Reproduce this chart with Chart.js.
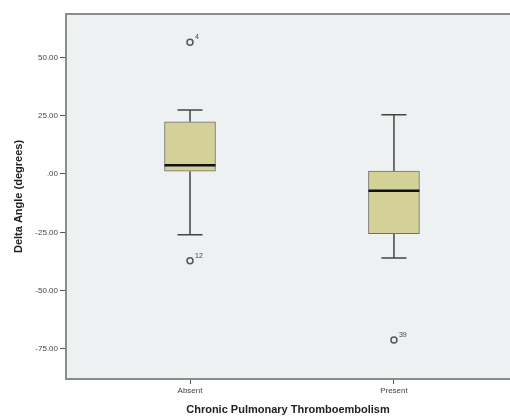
<!DOCTYPE html>
<html>
<head>
<meta charset="utf-8">
<script src="https://cdn.jsdelivr.net/npm/chart.js@4"></script>
<style>
  body { margin: 0; background: #fff; }
  #wrap { width: 510px; height: 417px; }
</style>
</head>
<body>
<div id="wrap"><canvas id="myChart"></canvas></div>
<script>
// box plot values
const categories = ['Absent', 'Present'];
const lowerWhisker = [-26.0, -36.0];
const q1 = [1.2, -25.6];
const median = [3.7, -7.2];
const q3 = [22.4, 1.3];
const upperWhisker = [27.4, 25.4];

// outliers: which category, value, case number
const outlierGroup = [0, 0, 1];
const outlierValues = [56.5, -37.2, -71.2];
const outlierIds = ['4', '12', '39'];

const yTicks = [-75, -50, -25, 0, 25, 50];

const tickFont = { family: 'Liberation Sans, Arial, sans-serif', size: 8 };
const titleFont = { family: 'Liberation Sans, Arial, sans-serif', size: 11, weight: 'bold' };

// plot background + top frame line
const plotBg = {
    id: 'plotBg',
    beforeDraw(chart) {
        const { ctx, chartArea: a } = chart;
        ctx.save();
        ctx.fillStyle = '#eef1f1';
        ctx.fillRect(a.left, a.top, a.right - a.left, a.bottom - a.top);
        ctx.strokeStyle = '#8c8c8c';
        ctx.lineWidth = 2;
        ctx.beginPath();
        ctx.moveTo(a.left, a.top);
        ctx.lineTo(a.right, a.top);
        ctx.stroke();
        ctx.restore();
    }
};

// whiskers, caps, medians and outlier case labels
const boxParts = {
    id: 'boxParts',
    beforeDatasetsDraw(chart) {
        const { ctx, scales: { x, y } } = chart;
        ctx.save();
        ctx.strokeStyle = '#444';
        ctx.lineWidth = 1.5;
        categories.forEach((c, i) => {
            const px = x.getPixelForValue(i + 1);
            ctx.beginPath();
            ctx.moveTo(px, y.getPixelForValue(q3[i]));
            ctx.lineTo(px, y.getPixelForValue(upperWhisker[i]));
            ctx.moveTo(px, y.getPixelForValue(q1[i]));
            ctx.lineTo(px, y.getPixelForValue(lowerWhisker[i]));
            ctx.moveTo(px - 12.5, y.getPixelForValue(upperWhisker[i]));
            ctx.lineTo(px + 12.5, y.getPixelForValue(upperWhisker[i]));
            ctx.moveTo(px - 12.5, y.getPixelForValue(lowerWhisker[i]));
            ctx.lineTo(px + 12.5, y.getPixelForValue(lowerWhisker[i]));
            ctx.stroke();
        });
        ctx.restore();
    },
    afterDatasetsDraw(chart) {
        const { ctx, scales: { x, y } } = chart;
        ctx.save();
        ctx.strokeStyle = '#111';
        ctx.lineWidth = 2.5;
        categories.forEach((c, i) => {
            const px = x.getPixelForValue(i + 1);
            const py = y.getPixelForValue(median[i]);
            ctx.beginPath();
            ctx.moveTo(px - 25.5, py);
            ctx.lineTo(px + 25.5, py);
            ctx.stroke();
        });
        ctx.fillStyle = '#444';
        ctx.font = '7px Liberation Sans, Arial, sans-serif';
        ctx.textAlign = 'left';
        ctx.textBaseline = 'alphabetic';
        outlierIds.forEach((id, i) => {
            const px = x.getPixelForValue(outlierGroup[i] + 1);
            const py = y.getPixelForValue(outlierValues[i]);
            ctx.fillText(id, px + 5, py - 3);
        });
        ctx.restore();
    }
};

var ctx = document.getElementById('myChart').getContext('2d');

const myChart = new Chart(ctx, {
    type: 'bar',
    data: {
        datasets: [{
            type: 'bar',
            data: categories.map((c, i) => ({ x: i + 1, y: [q1[i], q3[i]] })),
            backgroundColor: '#d3d098',
            borderColor: '#707070',
            borderWidth: 1,
            borderSkipped: false,
            barThickness: 51
        }, {
            type: 'scatter',
            data: outlierValues.map((v, i) => ({ x: outlierGroup[i] + 1, y: v })),
            pointRadius: 3,
            pointBackgroundColor: '#eef1f1',
            pointBorderColor: '#555',
            pointBorderWidth: 1.5
        }]
    },
    options: {
        responsive: true,
        maintainAspectRatio: false,
        animation: false,
        layout: { autoPadding: false, padding: { top: 14, right: 0, left: 0, bottom: 0 } },
        plugins: { legend: { display: false }, tooltip: { enabled: false } },
        scales: {
            x: {
                type: 'linear',
                offset: false,
                min: 0.392,
                max: 2.569,
                afterBuildTicks: s => { s.ticks = categories.map((c, i) => ({ value: i + 1 })); },
                afterFit: s => { s.height = 38; s.paddingRight = 0; s.paddingLeft = 0; },
                ticks: {
                    callback: v => categories[v - 1],
                    font: tickFont,
                    color: '#444',
                    padding: 2,
                    maxRotation: 0
                },
                grid: { offset: false, drawOnChartArea: false, tickLength: 5, color: '#555' },
                border: { display: true, color: '#8c8c8c', width: 2 },
                title: {
                    display: true,
                    text: 'Chronic Pulmonary Thromboembolism',
                    font: titleFont,
                    color: '#222',
                    padding: { top: 0, bottom: 0 }
                }
            },
            y: {
                min: -87.9,
                max: 68.6,
                afterBuildTicks: s => { s.ticks = yTicks.map(v => ({ value: v })); },
                afterFit: s => { s.width = 66; },
                ticks: {
                    callback: v => v === 0 ? '.00' : v.toFixed(2),
                    font: tickFont,
                    color: '#444',
                    padding: 2
                },
                grid: { drawOnChartArea: false, tickLength: 6, color: '#555' },
                border: { display: true, color: '#8c8c8c', width: 2 },
                title: {
                    display: true,
                    text: 'Delta Angle (degrees)',
                    font: titleFont,
                    color: '#222',
                    padding: { top: 12, bottom: 0 }
                }
            }
        }
    },
    plugins: [plotBg, boxParts]
});
</script>
</body>
</html>
